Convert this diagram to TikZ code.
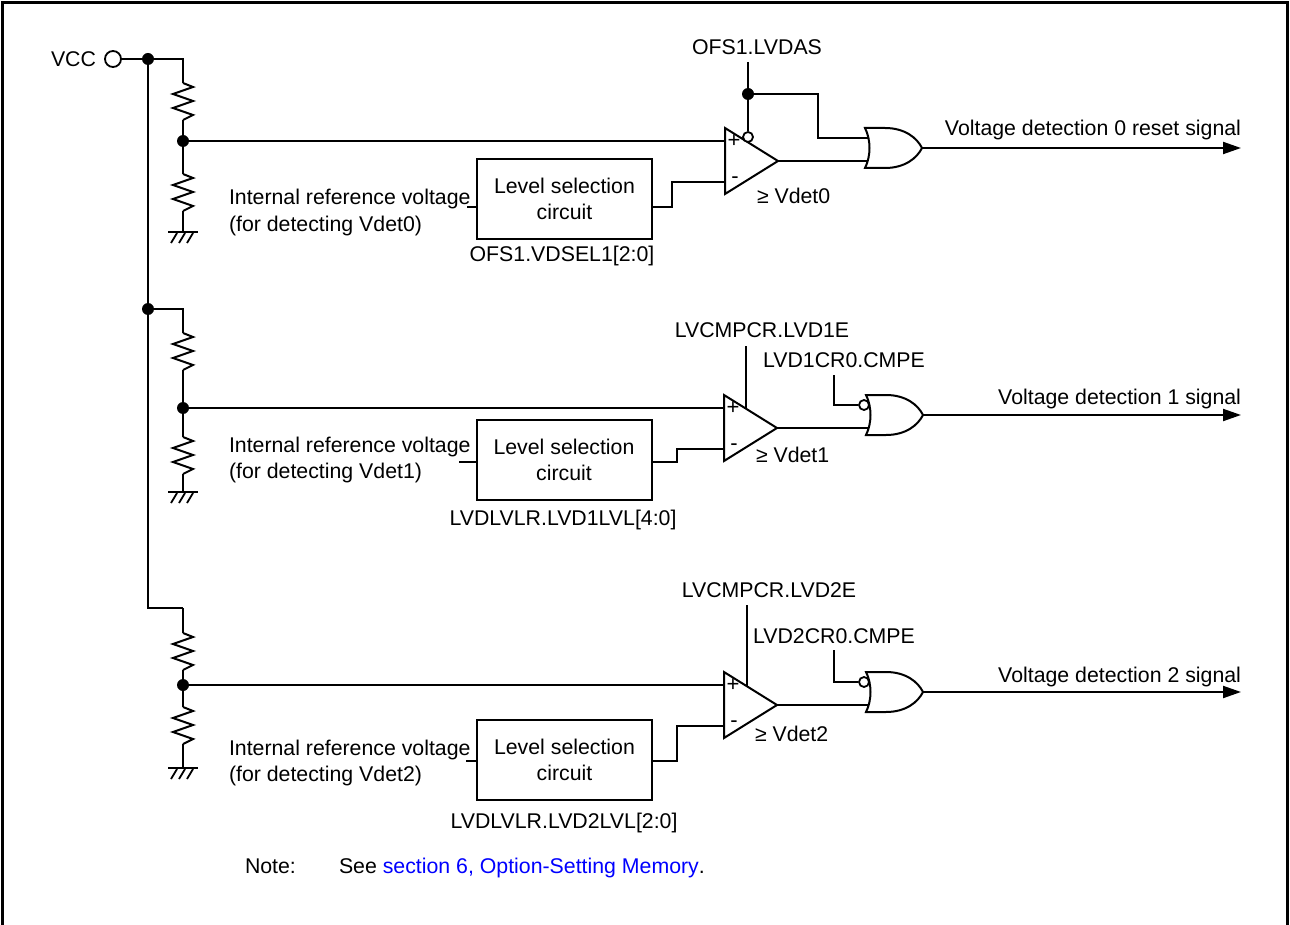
\documentclass[tikz,border=0pt]{standalone}
\usepackage{fontspec}
\setmainfont{Liberation Sans}
\usetikzlibrary{arrows.meta,calc}
\definecolor{linkblue}{RGB}{0,0,255}
\tikzset{
  resistor/.pic={\draw[line join=miter] (0,0)--(10,4)--(-10,11)--(10,18)--(-10,25)--(10,32)--(0,37);},
  ground/.pic={\draw (-15,0)--(15,0);
    \draw[line width=1.8pt] (-6,1)--(-12,11) (2,1)--(-4,11) (10,1)--(4,11);},
  comparator/.pic={
    \draw[line join=miter] (0,0)--(53,33)--(0,66)--cycle;
    \node[font=\fontsize{22}{22}\selectfont] at (9,13) {+};
    \node[font=\fontsize{22}{22}\selectfont] at (10,52) {-};
    \coordinate (-plus) at (0,13);
    \coordinate (-minus) at (0,54);
    \coordinate (-out) at (53,33);},
  orgate/.pic={
    \draw (0,0)--(20,0) .. controls (40,0) and (52,10) .. (57,20)
      .. controls (52,30) and (40,40) .. (20,40) -- (0,40)
      .. controls (6,28) and (6,12) .. (0,0) -- cycle;
    \coordinate (-in1) at (3.4,10);
    \coordinate (-in2) at (3,33);
    \coordinate (-bub) at (-2,10);
    \coordinate (-out) at (57,20);},
}
\begin{document}
\begin{tikzpicture}[x=1pt,y=-1pt,line width=2pt,
  every node/.style={font=\fontsize{21.3}{26}\selectfont,inner sep=0pt},
  box/.style={draw,minimum width=175pt,minimum height=80pt,align=center},
  dot/.style={circle,fill,inner sep=0pt,minimum size=12pt},
  bubble/.style={circle,draw,fill=white,inner sep=0pt,minimum size=10pt,line width=1.8pt},
  pin/.style={circle,draw,inner sep=0pt,minimum size=16pt,line width=1.8pt},
  lbl/.style={anchor=base west},
  clbl/.style={anchor=base},
  sig/.style={-{Triangle[length=18pt,width=12pt]}},
  frame/.style={line width=3pt}]
\useasboundingbox (0,0) rectangle (1290,925);
\draw[frame] (2,925)--(2,3)--(1287,3)--(1287,925);

% supply and bus
\node[anchor=east] (vcc) at (97,59) {VCC};
\node[pin] (vccpin) at (113,59) {};
\node[dot] (j0) at (148,59) {};
\node[dot] (j1) at (148,309) {};
\coordinate (bend2) at (148,608);
\draw (vccpin) -- (j0.center);
\draw (j0.center) -- (j1.center) -- (bend2) -- (183,608);

% divider chain 0
\coordinate (r0a) at (183,83);
\coordinate (r0b) at (183,174);
\coordinate (gnd0) at (183,232);
\node[dot] (k0) at (183,141) {};
\draw (j0.center) -| (r0a);
\pic at (r0a) {resistor};
\draw ($(r0a)+(0,37)$) -- (r0b);
\pic at (r0b) {resistor};
\draw ($(r0b)+(0,37)$) -- (gnd0);
\pic at (gnd0) {ground};

% divider chain 1
\coordinate (r1a) at (183,333);
\coordinate (r1b) at (183,437);
\coordinate (gnd1) at (183,492);
\node[dot] (k1) at (183,408) {};
\draw (j1.center) -| (r1a);
\pic at (r1a) {resistor};
\draw ($(r1a)+(0,37)$) -- (r1b);
\pic at (r1b) {resistor};
\draw ($(r1b)+(0,37)$) -- (gnd1);
\pic at (gnd1) {ground};

% divider chain 2
\coordinate (r2a) at (183,633);
\coordinate (r2b) at (183,707);
\coordinate (gnd2) at (183,768);
\node[dot] (k2) at (183,685) {};
\draw (183,608) -- (r2a);
\pic at (r2a) {resistor};
\draw ($(r2a)+(0,37)$) -- (r2b);
\pic at (r2b) {resistor};
\draw ($(r2b)+(0,37)$) -- (gnd2);
\pic at (gnd2) {ground};

% comparators and gates
\pic (c0) at (725,128) {comparator};
\pic (c1) at (724,395) {comparator};
\pic (c2) at (724,672) {comparator};
\pic (g0) at (865,128) {orgate};
\pic (g1) at (866,395) {orgate};
\pic (g2) at (866,672) {orgate};

\draw (k0.center) -- (c0-plus);
\draw (k1.center) -- (c1-plus);
\draw (k2.center) -- (c2-plus);
\draw (c0-out) -- (g0-in2);
\draw (c1-out) -- (g1-in2);
\draw (c2-out) -- (g2-in2);

% level selection boxes
\node[box] (lsc0) at (564.5,199) {Level selection\\circuit};
\node[box] (lsc1) at (564,459.5) {Level selection\\circuit};
\node[box] (lsc2) at (564.5,759.5) {Level selection\\circuit};

\coordinate (in0) at (467,207);
\coordinate (in1) at (459,462);
\coordinate (in2) at (466,761);
\draw (in0) -- (in0 -| lsc0.west);
\draw (in1) -- (in1 -| lsc1.west);
\draw (in2) -- (in2 -| lsc2.west);
\draw (in0 -| lsc0.east) -- (672,207) |- (c0-minus);
\draw (in1 -| lsc1.east) -- (677,462) |- (c1-minus);
\draw (in2 -| lsc2.east) -- (677,761) |- (c2-minus);

\node[lbl] (iref0) at (228,205) {Internal reference voltage};
\node[lbl] (det0) at (228,232) {(for detecting Vdet0)};
\node[lbl] (iref1) at (228,452) {Internal reference voltage};
\node[lbl] (det1) at (228,478) {(for detecting Vdet1)};
\node[lbl] (iref2) at (228,755) {Internal reference voltage};
\node[lbl] (det2) at (228,781) {(for detecting Vdet2)};

\node[clbl] (sel0) at (562,262) {OFS1.VDSEL1[2:0]};
\node[clbl] (sel1) at (563,525) {LVDLVLR.LVD1LVL[4:0]};
\node[clbl] (sel2) at (564,828) {LVDLVLR.LVD2LVL[2:0]};

\node[lbl] (v0) at (756,204) {≥ Vdet0};
\node[lbl] (v1) at (755,462) {≥ Vdet1};
\node[lbl] (v2) at (754,741) {≥ Vdet2};

% stage 0 control
\node[clbl] (lvdas) at (757,55) {OFS1.LVDAS};
\coordinate (lvdasend) at (748,62);
\node[dot] (d0) at (748,94) {};
\node[bubble] (b0) at (748,137) {};
\draw (lvdasend) -- (b0.north);
\draw (d0.center) -- (818,94) |- (g0-in1);

% stage 1 control
\node[clbl] (en1) at (762,337) {LVCMPCR.LVD1E};
\coordinate (en1end) at (746,346);
\draw (en1end) -- (746,408.5);
\node[clbl] (cm1) at (844,367) {LVD1CR0.CMPE};
\coordinate (cm1end) at (834,375);
\node[bubble] (b1) at (g1-bub) {};
\draw (cm1end) |- (b1.west);

% stage 2 control
\node[clbl] (en2) at (769,597) {LVCMPCR.LVD2E};
\coordinate (en2end) at (747,605);
\draw (en2end) -- (747,686);
\node[clbl] (cm2) at (834,643) {LVD2CR0.CMPE};
\coordinate (cm2end) at (834,650);
\node[bubble] (b2) at (g2-bub) {};
\draw (cm2end) |- (b2.west);

% outputs
\coordinate (o0) at (1241,148);
\coordinate (o1) at (1241,415);
\coordinate (o2) at (1241,692);
\draw[sig] (g0-out) -- (o0);
\draw[sig] (g1-out) -- (o1);
\draw[sig] (g2-out) -- (o2);
\node[anchor=base east] (s0) at (1242,136) {Voltage detection 0 reset signal};
\node[anchor=base east] (s1) at (1242,404) {Voltage detection 1 signal};
\node[anchor=base east] (s2) at (1242,682) {Voltage detection 2 signal};

% note
\node[lbl] (note) at (244,873) {Note:};
\node[lbl] (see) at (338,873) {See \textcolor{linkblue}{section 6, Option-Setting Memory}.};
\end{tikzpicture}
\end{document}
